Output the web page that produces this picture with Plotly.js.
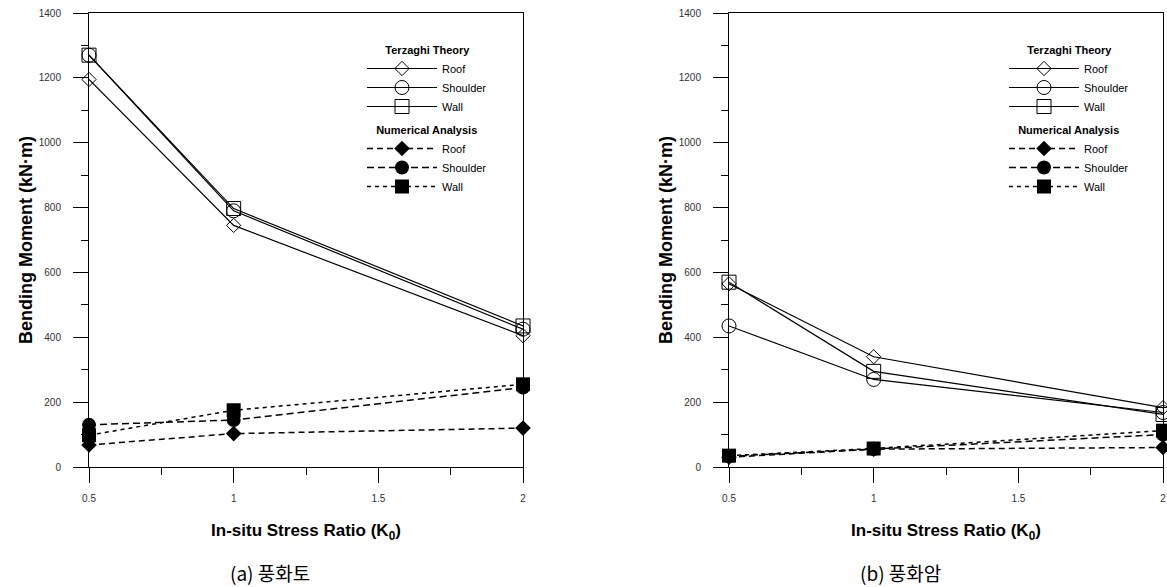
<!DOCTYPE html>
<html>
<head>
<meta charset="utf-8">
<script src="https://cdn.plot.ly/plotly-3.0.1.min.js"></script>
<style>html,body{margin:0;padding:0;background:#fff;}#chart{width:1167px;height:587px;}</style>
</head>
<body>
<div id="chart"></div>
<script>
// Data
const xK = [0.5, 1, 2];
const xTickVals = [0.5, 1, 1.5, 2];
const xTickText = ['0.5', '1', '1.5', '2'];
const yTickVals = [0, 200, 400, 600, 800, 1000, 1200, 1400];

// (a) weathered soil
const aTerzRoof = [1195, 745, 405];
const aTerzShoulder = [1270, 790, 425];
const aTerzWall = [1270, 797, 435];
const aNumRoof = [68, 103, 120];
const aNumShoulder = [130, 145, 245];
const aNumWall = [98, 175, 255];

// (b) weathered rock
const bTerzRoof = [565, 340, 183];
const bTerzShoulder = [435, 270, 168];
const bTerzWall = [570, 295, 162];
const bNumRoof = [30, 55, 60];
const bNumShoulder = [33, 55, 100];
const bNumWall = [35, 57, 112];

const seriesNames = ['Roof', 'Shoulder', 'Wall'];
const groupTitles = ['Terzaghi Theory', 'Numerical Analysis'];
const captions = ['(a) 풍화토', '(b) 풍화암'];

const FONT = 'Liberation Sans, Arial, sans-serif';
const openSyms = ['diamond-open', 'circle-open', 'square-open'];
const fillSyms = ['diamond', 'circle', 'square'];
const openSizes = [11, 14, 14];
const fillSizes = [12, 14, 14];
const dashes = ['6px,4px', '7px,4px', '4px,4px'];
const titlePad = ['&nbsp;&nbsp;&nbsp;&nbsp;&nbsp;&nbsp;', '&nbsp;&nbsp;&nbsp;'];

function makeTraces(terz, num, xa, ya, leg) {
  const tr = [];
  terz.forEach((ys, i) => tr.push({
    x: xK, y: ys, xaxis: xa, yaxis: ya, legend: leg,
    type: 'scatter', mode: 'lines+markers', name: seriesNames[i],
    legendgroup: 'terz', legendgrouptitle: {text: titlePad[0] + '<b>' + groupTitles[0] + '</b>', font: {size: 11, color: '#000', family: FONT}},
    line: {color: '#000', width: 1.2},
    marker: {symbol: openSyms[i], size: openSizes[i], color: '#000', line: {color: '#000', width: 1}},
    cliponaxis: false
  }));
  num.forEach((ys, i) => tr.push({
    x: xK, y: ys, xaxis: xa, yaxis: ya, legend: leg,
    type: 'scatter', mode: 'lines+markers', name: seriesNames[i],
    legendgroup: 'num', legendgrouptitle: {text: titlePad[1] + '<b>' + groupTitles[1] + '</b>', font: {size: 11, color: '#000', family: FONT}},
    line: {color: '#000', width: 1.5, dash: dashes[i]},
    marker: {symbol: fillSyms[i], size: fillSizes[i], color: '#000'},
    cliponaxis: false
  }));
  return tr;
}

const data = [].concat(
  makeTraces([aTerzRoof, aTerzShoulder, aTerzWall], [aNumRoof, aNumShoulder, aNumWall], 'x', 'y', 'legend'),
  makeTraces([bTerzRoof, bTerzShoulder, bTerzWall], [bNumRoof, bNumShoulder, bNumWall], 'x2', 'y2', 'legend2')
);

const W = 1167, H = 587;
function xAxis(d, anchor) {
  return {
    domain: d, anchor: anchor, range: [0.5, 2], showgrid: false, zeroline: false,
    showline: true, linecolor: '#000', linewidth: 1, mirror: true,
    ticks: 'outside', ticklen: 15, tickwidth: 1, tickcolor: '#000',
    tickvals: xTickVals, ticktext: xTickText, ticklabelstandoff: 7,
    tickfont: {size: 10, color: '#333', family: FONT},
    minor: {dtick: 0.25, ticks: 'outside', ticklen: 7, tickcolor: '#000', showgrid: false},
    title: {text: '<b>In-situ Stress Ratio (K<sub>0</sub>)</b>', font: {size: 17, color: '#000', family: FONT}, standoff: 21}
  };
}
function yAxis(anchor) {
  return {
    domain: [1 - 467 / H, 1 - 13 / H], anchor: anchor, range: [0, 1400], showgrid: false, zeroline: false,
    showline: true, linecolor: '#000', linewidth: 1, mirror: true,
    ticks: 'outside', ticklen: 15, tickwidth: 1, tickcolor: '#000',
    tickvals: yTickVals, ticklabelstandoff: 10,
    tickfont: {size: 10, color: '#333', family: FONT},
    minor: {dtick: 100, ticks: 'outside', ticklen: 7, tickcolor: '#000', showgrid: false},
    title: {text: '<b>Bending Moment (kN·m)</b>', font: {size: 18, color: '#000', family: FONT}, standoff: 1}
  };
}
const legendBase = {
  yanchor: 'top', xanchor: 'left', y: 1 - 35 / H,
  bgcolor: 'rgba(0,0,0,0)', borderwidth: 0,
  font: {size: 11, color: '#000', family: FONT},
  itemwidth: 70, tracegroupgap: 4, itemclick: false, itemdoubleclick: false
};

const layout = {
  width: W, height: H,
  margin: {l: 0, r: 0, t: 0, b: 0},
  paper_bgcolor: '#fff', plot_bgcolor: '#fff',
  font: {family: FONT, color: '#000'},
  showlegend: true,
  xaxis: xAxis([89 / W, 523 / W], 'y'),
  yaxis: yAxis('x'),
  xaxis2: xAxis([729 / W, 1163 / W], 'y2'),
  yaxis2: yAxis('x2'),
  legend: Object.assign({}, legendBase, {x: 362 / W}),
  legend2: Object.assign({}, legendBase, {x: 1004 / W}),
  annotations: [
    {text: captions[0], xref: 'paper', yref: 'paper', x: 270 / W, y: 1 - 572 / H, xanchor: 'center', yanchor: 'middle', showarrow: false, font: {size: 19, color: '#000', family: 'Noto Sans CJK KR, sans-serif'}},
    {text: captions[1], xref: 'paper', yref: 'paper', x: 900 / W, y: 1 - 572 / H, xanchor: 'center', yanchor: 'middle', showarrow: false, font: {size: 19, color: '#000', family: 'Noto Sans CJK KR, sans-serif'}}
  ]
};

Plotly.newPlot('chart', data, layout, {staticPlot: true, displayModeBar: false});
</script>
</body>
</html>
